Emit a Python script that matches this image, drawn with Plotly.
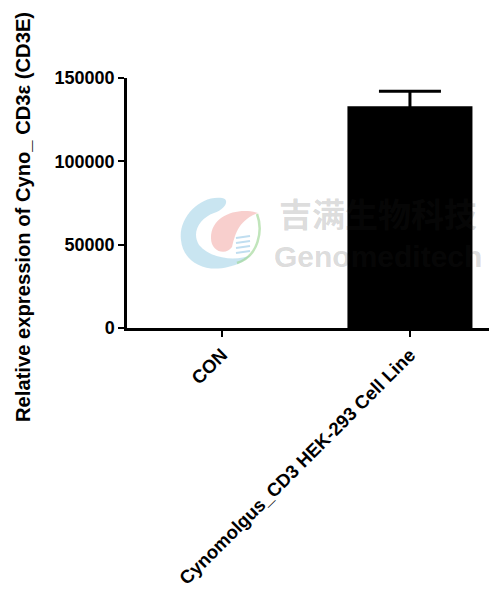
import plotly.graph_objects as go

categories = ["CON", "Cynomolgus_CD3 HEK-293 Cell Line"]
means = [0, 133000]
errors = [0, 9000]
y_ticks = [0, 50000, 100000, 150000]
y_title = "Relative expression of Cyno_ CD3ε (CD3E)"
wm_cn = "吉满生物科技"
wm_en = "Genomeditech"

# page body adds an 8px offset; work in reference-pixel coordinates
OFF = 8
W, H = 497 - OFF, 592 - OFF
L, T, R, B = 127 - OFF, 78 - OFF, 0, 592 - 328
PW, PH = W - L - R, H - T - B

def px(x):
    return (x - OFF - L) / PW

def py(y):
    return (H - B - (y - OFF)) / PH

def P(x, y):
    return f"{px(x):.4f},{py(y):.4f}"

fig = go.Figure()
for i, (cat, m, e) in enumerate(zip(categories, means, errors)):
    fig.add_trace(go.Bar(
        x=[i], y=[m], name=cat,
        width=0.665,
        marker=dict(color="black", line=dict(width=0)),
        error_y=dict(type="data", array=[e], visible=bool(e),
                     color="black", thickness=3, width=31),
    ))

font = "Liberation Sans, Arial, sans-serif"

shapes = [
    # blue crescent
    dict(type="path", xref="paper", yref="paper", layer="above",
         path=("M" + P(222, 198) + " C" + P(200, 195) + " " + P(178, 218) + " " + P(181, 240)
               + " C" + P(183, 262) + " " + P(205, 273) + " " + P(228, 267)
               + " C" + P(238, 265) + " " + P(246, 260) + " " + P(251, 255)
               + " C" + P(238, 261) + " " + P(212, 260) + " " + P(199, 245)
               + " C" + P(191, 232) + " " + P(200, 218) + " " + P(214, 213)
               + " C" + P(226, 209) + " " + P(230, 199) + " " + P(222, 198) + " Z"),
         fillcolor="rgba(165,212,232,0.6)", line=dict(width=0)),
    # pink drop
    dict(type="path", xref="paper", yref="paper", layer="above",
         path=("M" + P(258, 213) + " C" + P(240, 207) + " " + P(211, 214) + " " + P(211, 238)
               + " C" + P(211, 252) + " " + P(226, 256) + " " + P(232, 247)
               + " C" + P(235, 236) + " " + P(237, 221) + " " + P(258, 213) + " Z"),
         fillcolor="rgba(242,160,155,0.5)", line=dict(width=0)),
    # green helix strand
    dict(type="path", xref="paper", yref="paper", layer="above",
         path="M" + P(257, 214) + " C" + P(263, 230) + " " + P(259, 256) + " " + P(237, 263),
         line=dict(color="rgba(160,215,150,0.65)", width=2.5)),
]
for k in range(4):
    yy = 238 + k * 5
    shapes.append(dict(type="line", xref="paper", yref="paper", layer="above",
                       x0=px(236), x1=px(250), y0=py(yy), y1=py(yy - 2),
                       line=dict(color="rgba(150,200,230,0.6)", width=2)))

fig.update_layout(
    width=W, height=H,
    margin=dict(l=L, r=R, t=T, b=B),
    paper_bgcolor="white", plot_bgcolor="white",
    showlegend=False,
    barmode="overlay",
    font=dict(family=font, color="black"),
    xaxis=dict(
        range=[-0.505, 1.463], automargin=False,
        tickmode="array", tickvals=[0, 1], ticktext=categories,
        tickangle=-45,
        tickfont=dict(family=font, size=18.6, color="black", weight="bold"),
        showline=True, linecolor="black", linewidth=2.5,
        ticks="outside", ticklen=6, tickwidth=2, tickcolor="black",
        showgrid=False, zeroline=False,
    ),
    yaxis=dict(
        range=[0, 150000], automargin=False,
        tickmode="array", tickvals=y_ticks, ticktext=[str(v) for v in y_ticks],
        tickfont=dict(family=font, size=18, color="black", weight="bold"),
        showline=True, linecolor="black", linewidth=2.5,
        ticks="outside", ticklen=6, tickwidth=2, tickcolor="black",
        showgrid=False, zeroline=False,
    ),
    shapes=shapes,
    annotations=[
        dict(text=y_title, xref="paper", yref="paper",
             x=px(23), y=py(217), xanchor="center", yanchor="middle",
             textangle=-90, showarrow=False,
             font=dict(family=font, size=20.2, color="black", weight="bold")),
        dict(text=wm_cn, xref="paper", yref="paper",
             x=px(378), y=py(213), xanchor="center", yanchor="middle",
             showarrow=False,
             font=dict(family="Noto Sans CJK SC", size=33, color="rgba(40,40,40,0.18)", weight="bold")),
        dict(text=wm_en, xref="paper", yref="paper",
             x=px(378), y=py(256), xanchor="center", yanchor="middle",
             showarrow=False,
             font=dict(family=font, size=30, color="rgba(40,40,40,0.18)", weight="bold")),
    ],
)

fig.write_html("out.html")
